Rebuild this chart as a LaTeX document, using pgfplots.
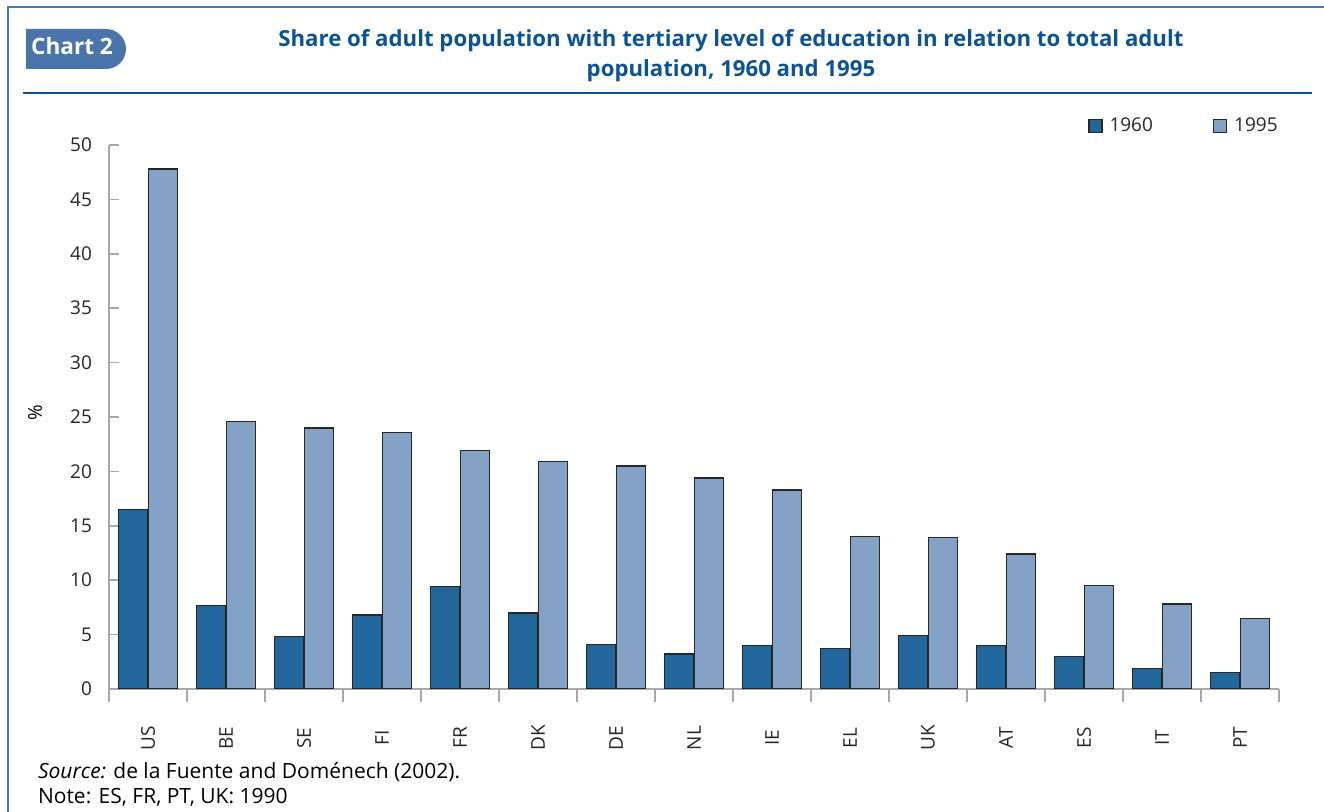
\documentclass[border=0pt]{standalone}
\usepackage{pgfplots}
\pgfplotsset{compat=1.18}
\usepackage{fontspec}
\setmainfont{Open Sans}
\definecolor{dark}{HTML}{22679B}
\definecolor{light}{HTML}{84A2C6}
\definecolor{titleblue}{HTML}{0B5395}
\definecolor{boxblue}{HTML}{4A75AA}
\definecolor{framec}{HTML}{3F78B4}
\definecolor{axisgray}{HTML}{A8A8A8}

\pgfplotstableread{
cat y1960 y1995
0 16.5 47.8
1 7.7 24.6
2 4.8 24.0
3 6.8 23.6
4 9.4 21.9
5 7.0 20.9
6 4.1 20.5
7 3.2 19.4
8 4.0 18.3
9 3.7 14.0
10 4.9 13.9
11 4.0 12.4
12 3.0 9.5
13 1.9 7.8
14 1.5 6.5
}\edudata

\begin{document}
\begin{tikzpicture}[x=0.5pt,y=-0.5pt]
\useasboundingbox (0,0) rectangle (1324,812);
% frame
\draw[framec, line width=1pt] (8,812) -- (8,7) -- (1324,7);
\draw[titleblue, line width=0.8pt] (23,93) -- (1312,93);
% tag
\fill[boxblue] (26,29) -- (106,29) arc[start angle=-90,end angle=90,radius=20] -- (26,69) -- cycle;
\node[text=white, font=\bfseries\fontsize{11.3}{14}\selectfont] at (72,46) {Chart 2};
\node[text=titleblue, font=\bfseries\fontsize{11.1}{15}\selectfont, align=center] at (731,56)
  {Share of adult population with tertiary level of education in relation to total adult\\population, 1960 and 1995};
\node[rotate=90, font=\fontsize{9.5}{11}\selectfont] at (35,413) {\%};

\begin{axis}[
    at={(54.5pt,-344.5pt)}, anchor=south west,
    scale only axis, width=585pt, height=272pt,
    xmin=-0.5, xmax=14.5, ymin=0, ymax=50,
    axis x line=bottom, axis y line=left,
    axis line style={-, axisgray, line width=0.8pt},
    ytick={0,5,...,50},
    xtick={0,...,14},
    xticklabels={US,BE,SE,FI,FR,DK,DE,NL,IE,EL,UK,AT,ES,IT,PT},
    minor xtick={-0.5,0.5,...,14.5},
    major x tick style={draw=none},
    minor x tick style={axisgray, line width=0.8pt},
    y tick style={axisgray, line width=0.8pt},
    tick align=inside,
    major tick length=5pt, minor tick length=6.5pt,
    /pgf/number format/assume math mode=true,
    tick label style={font=\fontsize{9.5}{11}\selectfont, text=black!85},
    yticklabel style={anchor=east, xshift=-5pt},
    x tick label style={yshift=-19.5pt, rotate=90, anchor=center},
    ybar, bar width=14.5pt,
    legend style={at={(1.0077,1.066)}, anchor=north east, draw=none, fill=none,
      legend columns=2, font=\fontsize{9.5}{11}\selectfont, text=black!85,
      /tikz/every odd column/.append style={column sep=1.5pt},
      /tikz/every even column/.append style={column sep=28pt}},
    legend image code/.code={\draw[#1, line width=0.6pt] (0pt,-3.25pt) rectangle (6.5pt,3.25pt);},
]
\addplot[fill=dark, draw=black!85, line width=0.7pt, bar shift=-7.5pt] table[x=cat, y=y1960] {\edudata};
\addplot[fill=light, draw=black!85, line width=0.7pt, bar shift=7.5pt] table[x=cat, y=y1995] {\edudata};
\legend{1960,1995}
\end{axis}

\node[anchor=west, font=\fontsize{10.5}{12}\selectfont] at (31,772) {\textit{Source:} de la Fuente and Doménech (2002).};
\node[anchor=west, font=\fontsize{10.5}{12}\selectfont] at (31,797) {Note: ES, FR, PT, UK: 1990};
\end{tikzpicture}
\end{document}
